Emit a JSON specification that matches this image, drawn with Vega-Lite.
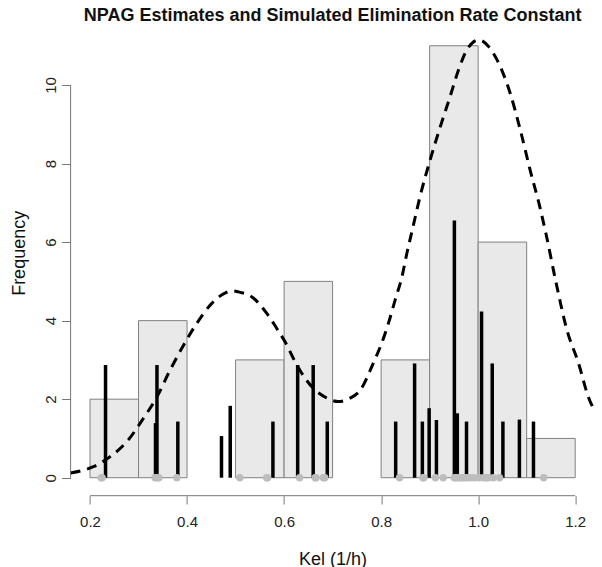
{
  "$schema": "https://vega.github.io/schema/vega-lite/v6.json",
  "autosize": {"type": "none"},
  "width": 524,
  "height": 485.7,
  "padding": {"left": 70.6, "top": 10, "right": 7.4, "bottom": 71.3},
  "background": "white",
  "config": {"view": {"stroke": null}, "font": "Liberation Sans"},
  "title": {
    "text": "NPAG Estimates and Simulated Elimination Rate Constant",
    "font": "Liberation Sans",
    "fontSize": 18,
    "fontWeight": "bold",
    "color": "#111111",
    "anchor": "middle",
    "baseline": "alphabetic",
    "offset": -13,
    "dy": 16
  },
  "datasets": {
    "hist": [
      {"start": 0.2, "end": 0.3, "count": 2},
      {"start": 0.3, "end": 0.4, "count": 4},
      {"start": 0.5, "end": 0.6, "count": 3},
      {"start": 0.6, "end": 0.7, "count": 5},
      {"start": 0.8, "end": 0.9, "count": 3},
      {"start": 0.9, "end": 1.0, "count": 11},
      {"start": 1.0, "end": 1.1, "count": 6},
      {"start": 1.1, "end": 1.2, "count": 1}
    ],
    "axislines": [
      {"x": 0.2, "x2": 1.2, "y": -0.458, "y2": -0.458},
      {"x": 0.16, "x2": 0.16, "y": 0, "y2": 10}
    ],
    "npag": [
      {"kel": 0.232, "height": 2.87},
      {"kel": 0.335, "height": 1.39},
      {"kel": 0.338, "height": 2.87},
      {"kel": 0.381, "height": 1.43},
      {"kel": 0.471, "height": 1.06},
      {"kel": 0.489, "height": 1.83},
      {"kel": 0.577, "height": 1.43},
      {"kel": 0.628, "height": 2.87},
      {"kel": 0.660, "height": 2.87},
      {"kel": 0.689, "height": 1.43},
      {"kel": 0.830, "height": 1.43},
      {"kel": 0.869, "height": 2.91},
      {"kel": 0.885, "height": 1.43},
      {"kel": 0.899, "height": 1.77},
      {"kel": 0.914, "height": 1.47},
      {"kel": 0.951, "height": 6.55},
      {"kel": 0.957, "height": 1.64},
      {"kel": 0.976, "height": 1.43},
      {"kel": 1.007, "height": 4.23},
      {"kel": 1.029, "height": 2.91},
      {"kel": 1.051, "height": 1.43},
      {"kel": 1.085, "height": 1.48},
      {"kel": 1.114, "height": 1.43}
    ],
    "sim": [
      {"kel": 0.223}, {"kel": 0.225},
      {"kel": 0.334}, {"kel": 0.338}, {"kel": 0.342}, {"kel": 0.379},
      {"kel": 0.509}, {"kel": 0.564}, {"kel": 0.566},
      {"kel": 0.632}, {"kel": 0.664}, {"kel": 0.666}, {"kel": 0.681}, {"kel": 0.684},
      {"kel": 0.838}, {"kel": 0.886}, {"kel": 0.888},
      {"kel": 0.912}, {"kel": 0.928}, {"kel": 0.951}, {"kel": 0.955}, {"kel": 0.959}, {"kel": 0.963}, {"kel": 0.968}, {"kel": 0.972}, {"kel": 0.977}, {"kel": 0.984}, {"kel": 0.992},
      {"kel": 1.002}, {"kel": 1.011}, {"kel": 1.016}, {"kel": 1.021}, {"kel": 1.031}, {"kel": 1.044},
      {"kel": 1.135}
    ],
    "density": [
      {"kel": 0.160, "f": 0.12}, {"kel": 0.207, "f": 0.28}, {"kel": 0.241, "f": 0.53},
      {"kel": 0.276, "f": 0.92}, {"kel": 0.310, "f": 1.51}, {"kel": 0.338, "f": 2.06},
      {"kel": 0.365, "f": 2.74}, {"kel": 0.394, "f": 3.40}, {"kel": 0.420, "f": 3.93},
      {"kel": 0.451, "f": 4.44}, {"kel": 0.475, "f": 4.68}, {"kel": 0.492, "f": 4.76},
      {"kel": 0.510, "f": 4.72}, {"kel": 0.533, "f": 4.61}, {"kel": 0.564, "f": 4.19},
      {"kel": 0.585, "f": 3.80}, {"kel": 0.602, "f": 3.46}, {"kel": 0.628, "f": 2.83},
      {"kel": 0.660, "f": 2.28}, {"kel": 0.688, "f": 2.03}, {"kel": 0.712, "f": 1.94},
      {"kel": 0.735, "f": 2.02}, {"kel": 0.757, "f": 2.23}, {"kel": 0.784, "f": 2.92},
      {"kel": 0.801, "f": 3.42}, {"kel": 0.815, "f": 3.93}, {"kel": 0.829, "f": 4.53},
      {"kel": 0.843, "f": 5.12}, {"kel": 0.853, "f": 5.71}, {"kel": 0.865, "f": 6.35},
      {"kel": 0.880, "f": 7.15}, {"kel": 0.901, "f": 8.09}, {"kel": 0.922, "f": 8.94},
      {"kel": 0.942, "f": 9.70}, {"kel": 0.960, "f": 10.40}, {"kel": 0.977, "f": 10.90},
      {"kel": 1.001, "f": 11.15}, {"kel": 1.020, "f": 11.0}, {"kel": 1.039, "f": 10.64},
      {"kel": 1.066, "f": 9.79}, {"kel": 1.087, "f": 8.85}, {"kel": 1.107, "f": 7.84},
      {"kel": 1.128, "f": 6.85}, {"kel": 1.140, "f": 6.20}, {"kel": 1.160, "f": 5.0},
      {"kel": 1.183, "f": 3.76}, {"kel": 1.207, "f": 2.91}, {"kel": 1.227, "f": 2.06},
      {"kel": 1.240, "f": 1.70}
    ]
  },
  "layer": [
    {
      "data": {"name": "hist"},
      "transform": [{"calculate": "0", "as": "base"}],
      "mark": {"type": "rect", "fill": "#e9e9e9", "stroke": "#808080", "strokeWidth": 1},
      "encoding": {
        "x": {
          "field": "start", "type": "quantitative",
          "scale": {"domain": [0.16, 1.24], "nice": false, "zero": false},
          "axis": {
            "values": [0.2, 0.4, 0.6, 0.8, 1.0, 1.2],
            "format": ".1f",
            "domain": false,
            "grid": false,
            "tickSize": 8.3,
            "tickColor": "#777777",
            "tickWidth": 1,
            "labelFontSize": 15,
            "labelColor": "#222222",
            "labelPadding": 10,
            "labelFont": "Liberation Sans",
            "title": "Kel (1/h)",
            "titleFont": "Liberation Sans",
            "titleFontSize": 18,
            "titleFontWeight": "normal",
            "titleColor": "#111111",
            "titlePadding": 21
          }
        },
        "x2": {"field": "end"},
        "y": {
          "field": "count", "type": "quantitative",
          "scale": {"domain": [-0.458, 11.91], "nice": false, "zero": false},
          "axis": {
            "values": [0, 2, 4, 6, 8, 10],
            "domain": false,
            "grid": false,
            "tickSize": 9,
            "tickColor": "#777777",
            "tickWidth": 1,
            "labelFontSize": 15,
            "labelColor": "#222222",
            "labelAngle": -90,
            "labelAlign": "center",
            "labelBaseline": "bottom",
            "labelPadding": 3,
            "labelFont": "Liberation Sans",
            "title": "Frequency",
            "titleFont": "Liberation Sans",
            "titleFontSize": 18,
            "titleFontWeight": "normal",
            "titleColor": "#111111",
            "titlePadding": 15
          }
        },
        "y2": {"field": "base"}
      }
    },
    {
      "data": {"name": "axislines"},
      "mark": {"type": "rule", "color": "#777777", "strokeWidth": 1},
      "encoding": {
        "x": {"field": "x", "type": "quantitative"},
        "x2": {"field": "x2"},
        "y": {"field": "y", "type": "quantitative"},
        "y2": {"field": "y2"}
      }
    },
    {
      "data": {"name": "npag"},
      "transform": [{"calculate": "0", "as": "base"}],
      "mark": {"type": "rule", "color": "#000000", "strokeWidth": 3.5, "strokeCap": "butt"},
      "encoding": {
        "x": {"field": "kel", "type": "quantitative"},
        "y": {"field": "base", "type": "quantitative"},
        "y2": {"field": "height"}
      }
    },
    {
      "data": {"name": "sim"},
      "transform": [{"calculate": "0", "as": "base"}],
      "mark": {"type": "circle", "color": "#bdbdbd", "opacity": 1, "size": 55},
      "encoding": {
        "x": {"field": "kel", "type": "quantitative"},
        "y": {"field": "base", "type": "quantitative"}
      }
    },
    {
      "data": {"name": "density"},
      "mark": {"type": "line", "color": "#000000", "strokeWidth": 3, "strokeDash": [10, 7], "interpolate": "monotone", "clip": true},
      "encoding": {
        "x": {"field": "kel", "type": "quantitative"},
        "y": {"field": "f", "type": "quantitative"}
      }
    }
  ]
}
